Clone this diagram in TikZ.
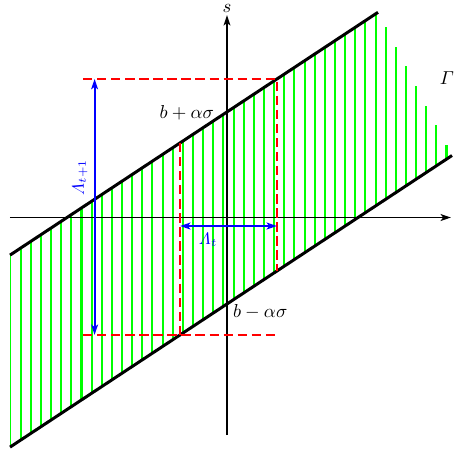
\documentclass[tikz,border=0pt]{standalone}
\usepackage{amsmath,amssymb}
\usetikzlibrary{arrows.meta,positioning}

\begin{document}
\begin{tikzpicture}[x=0.75cm,y=0.75cm,>={Stealth[length=5.5pt,width=3.6pt,inset=1.3pt]},
  bnd/.style={line width=1.6pt},
  ax/.style={->,line width=1pt},
  hatch/.style={green,line width=1.1pt},
  proj/.style={red,line width=1.2pt,dash pattern=on 5pt off 2.5pt},
  gap/.style={<->,blue,line width=1.1pt}]
\useasboundingbox (-5.675,-5.8625) rectangle (5.75,5.4375);
% band corners
\coordinate (ul) at (-5.425,-0.94); \coordinate (ur) at (3.775,5.13);
\coordinate (ll) at (-5.425,-5.74); \coordinate (lr) at (5.625,1.55);
% hatching
\draw[hatch,line width=0.5pt] (ll) -- (ul);
\foreach \i in {1,...,43}{
  \pgfmathsetmacro\hx{-5.4125+0.2535*\i}
  \pgfmathsetmacro\hlo{0.66*\hx-2.16}
  \pgfmathsetmacro\hup{min(0.66*\hx+2.64,5.13-1.935*(\hx-3.775))}
  \draw[hatch] (\hx,\hlo) -- (\hx,\hup);
}
% axes
\coordinate (xl) at (-5.425,0); \coordinate (xr) at (5.6,0);
\coordinate (yb) at (0,-5.44); \coordinate (yt) at (0,5.06);
\draw[ax] (xl) -- (xr);
\draw[ax] (yb) -- (yt);
\node[above,inner sep=1pt] (s) at (yt) {$s$};
\draw[bnd] (ul) -- (ur);
\draw[bnd] (ll) -- (lr);
% projections
\coordinate (p1) at (-1.175,1.8645); \coordinate (p2) at (-1.175,-2.9355);
\coordinate (q1) at (1.25,3.465); \coordinate (q2) at (1.25,-1.335);
\coordinate (ht) at (-3.6,3.465); \coordinate (hb) at (-3.6,-2.9355);
\coordinate (hbr) at (1.25,-2.9355);
\draw[proj] (ht) -- (q1) -- (q2);
\draw[proj] (p1) -- (p2);
\draw[proj] (hb) -- (hbr);
% widths
\coordinate (vb) at (-3.31,-2.9355); \coordinate (vt) at (-3.31,3.465);
\draw[gap] (vb) -- node[pos=0.615,above,rotate=90,blue,font=\small] (lt1) {$\varLambda_{t+1}$} (vt);
\coordinate (gl) at (-1.175,-0.2125); \coordinate (gr) at (1.25,-0.2125);
\draw[gap] (gl) -- node[pos=0.29,below,blue,font=\small] (lt) {$\varLambda_t$} (gr);
% labels
\node[anchor=east] (bp) at (-0.16,2.61) {$b+\alpha\sigma$};
\node[anchor=west] (bm) at (-0.015,-2.36) {$b-\alpha\sigma$};
\node (gam) at (5.5,3.49) {$\varGamma$};
\end{tikzpicture}
\end{document}
